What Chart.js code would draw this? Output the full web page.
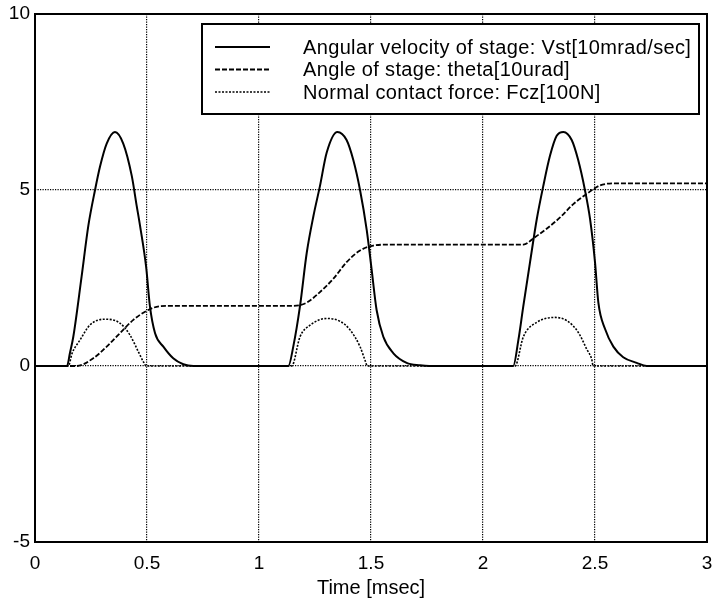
<!DOCTYPE html>
<html>
<head>
<meta charset="utf-8">
<script src="https://cdn.jsdelivr.net/npm/chart.js@4.4.0/dist/chart.umd.min.js"></script>
<style>
    html, body { margin: 0; padding: 0; background: #fff; }
    #wrap { width: 717px; height: 604px; }
</style>
</head>
<body>
<div id="wrap"><canvas id="chart"></canvas></div>
<script>
// values (time in msec)
const velTime = [0, 0.143, 0.156, 0.171, 0.208, 0.238, 0.268, 0.290, 0.320, 0.357, 0.394, 0.432, 0.454, 0.469, 0.496, 0.513, 0.536, 0.573, 0.617, 0.662, 0.707,
    1.131, 1.153, 1.183, 1.213, 1.243, 1.272, 1.302, 1.350, 1.391, 1.421, 1.451, 1.481, 1.503, 1.525, 1.555, 1.600, 1.659, 1.719, 1.760,
    2.135, 2.158, 2.180, 2.210, 2.240, 2.269, 2.299, 2.329, 2.359, 2.396, 2.425, 2.455, 2.478, 2.500, 2.515, 2.545, 2.582, 2.626, 2.686, 2.731, 3.0];
const velValues = [0, 0, 0.37, 0.83, 2.54, 3.98, 5.0, 5.66, 6.32, 6.65, 6.32, 5.4, 4.55, 3.98, 2.82, 1.7, 0.93, 0.55, 0.22, 0.05, 0,
    0, 0.55, 1.70, 3.21, 4.26, 5.11, 6.06, 6.65, 6.42, 5.85, 5.0, 3.86, 2.73, 1.59, 0.83, 0.36, 0.09, 0.02, 0,
    0, 0.74, 1.70, 2.95, 4.17, 5.11, 5.97, 6.54, 6.65, 6.42, 5.85, 5.0, 4.17, 2.95, 1.80, 1.05, 0.55, 0.25, 0.09, 0, 0];

const angleTime = [0, 0.186, 0.26, 0.32, 0.379, 0.439, 0.499, 0.558, 0.617, 1.153, 1.213, 1.272, 1.332, 1.391, 1.451, 1.510, 1.585,
    2.18, 2.232, 2.284, 2.344, 2.403, 2.463, 2.522, 2.597, 3.0];
const angleValues = [0, 0, 0.22, 0.55, 0.93, 1.31, 1.57, 1.70, 1.71, 1.71, 1.80, 2.10, 2.48, 2.95, 3.28, 3.42, 3.45,
    3.45, 3.66, 3.90, 4.22, 4.60, 4.89, 5.13, 5.19, 5.19];

const forceTime = [0, 0.149, 0.165, 0.201, 0.246, 0.3125, 0.379, 0.424, 0.461, 0.484, 0.496,
    1.146, 1.183, 1.228, 1.302, 1.362, 1.406, 1.451, 1.473, 1.484,
    2.143, 2.180, 2.240, 2.321, 2.374, 2.425, 2.463, 2.485, 2.492, 3.0];
const forceValues = [0, 0, 0.35, 0.74, 1.17, 1.33, 1.22, 0.88, 0.41, 0.12, 0,
    0, 0.83, 1.16, 1.35, 1.27, 1.03, 0.55, 0.17, 0,
    0, 0.83, 1.24, 1.38, 1.29, 0.96, 0.48, 0.2, 0, 0];

const seriesLabels = [
    'Angular velocity of stage: Vst[10mrad/sec]',
    'Angle of stage: theta[10urad]',
    'Normal contact force: Fcz[100N]'
];
const xTicks = [0, 0.5, 1, 1.5, 2, 2.5, 3];
const yTicks = [-5, 0, 5, 10];

const FONT = 'Liberation Sans, Arial, Helvetica, sans-serif';

const toPoints = (xs, ys) => xs.map((x, i) => ({ x, y: ys[i] }));

// box around the plot area (MATLAB style)
const frame = {
    id: 'frame',
    afterDatasetsDraw(chart) {
        const { ctx, chartArea: a } = chart;
        ctx.save();
        ctx.strokeStyle = '#000';
        ctx.lineWidth = 2;
        ctx.strokeRect(a.left, a.top, a.right - a.left, a.bottom - a.top);
        ctx.restore();
    }
};

// legend box inside the axes, upper right
const boxLegend = {
    id: 'boxLegend',
    afterDraw(chart) {
        const { ctx, chartArea: a } = chart;
        const w = 497, h = 90;
        const x0 = a.right - 8 - w;
        const y0 = a.top + 10;
        ctx.save();
        ctx.fillStyle = '#fff';
        ctx.fillRect(x0, y0, w, h);
        ctx.strokeStyle = '#000';
        ctx.lineWidth = 2;
        ctx.strokeRect(x0, y0, w, h);

        ctx.font = '20px ' + FONT;
        ctx.letterSpacing = '0.35px';
        ctx.textBaseline = 'middle';
        ctx.fillStyle = '#000';
        chart.data.datasets.forEach((ds, i) => {
            const y = y0 + 23 + i * 22.5;
            ctx.beginPath();
            ctx.setLineDash(ds.borderDash || []);
            ctx.lineWidth = ds.borderWidth;
            ctx.moveTo(x0 + 13, y);
            ctx.lineTo(x0 + 68, y);
            ctx.stroke();
            ctx.setLineDash([]);
            ctx.fillText(ds.label, x0 + 101, y + 1);
        });
        ctx.restore();
    }
};

const gridStyle = {
    color: '#000',
    lineWidth: 1.2,
    drawTicks: false
};

new Chart(document.getElementById('chart'), {
    type: 'scatter',
    data: {
        datasets: [
            {
                label: seriesLabels[0],
                data: toPoints(velTime, velValues),
                borderColor: '#000',
                borderWidth: 2,
                showLine: true,
                pointRadius: 0,
                cubicInterpolationMode: 'monotone'
            },
            {
                label: seriesLabels[1],
                data: toPoints(angleTime, angleValues),
                borderColor: '#000',
                borderWidth: 1.8,
                borderDash: [5, 2],
                showLine: true,
                pointRadius: 0,
                cubicInterpolationMode: 'monotone'
            },
            {
                label: seriesLabels[2],
                data: toPoints(forceTime, forceValues),
                borderColor: '#000',
                borderWidth: 1.6,
                borderDash: [2, 1.5],
                showLine: true,
                pointRadius: 0,
                cubicInterpolationMode: 'monotone'
            }
        ]
    },
    options: {
        responsive: true,
        maintainAspectRatio: false,
        animation: false,
        layout: { padding: { top: 14, right: 10, left: 0, bottom: 0 } },
        plugins: {
            legend: { display: false },
            tooltip: { enabled: false }
        },
        scales: {
            x: {
                type: 'linear',
                min: 0,
                max: 3,
                afterBuildTicks: (scale) => { scale.ticks = xTicks.map(v => ({ value: v })); },
                afterFit: (scale) => {
                    scale.height = 62;
                    scale.paddingLeft = 0;
                    scale.paddingRight = 0;
                },
                grid: gridStyle,
                border: { display: false, dash: [1.2, 1.3] },
                ticks: {
                    color: '#000',
                    padding: 10,
                    maxRotation: 0,
                    callback: (v) => String(v),
                    font: { family: FONT, size: 19 }
                },
                title: {
                    display: true,
                    text: 'Time [msec]',
                    color: '#000',
                    padding: { top: 0, bottom: 4 },
                    font: { family: FONT, size: 20 }
                }
            },
            y: {
                type: 'linear',
                min: -5,
                max: 10,
                afterBuildTicks: (scale) => { scale.ticks = yTicks.map(v => ({ value: v })); },
                afterFit: (scale) => {
                    scale.width = 35;
                    scale.paddingTop = 0;
                    scale.paddingBottom = 0;
                },
                grid: gridStyle,
                border: { display: false, dash: [1.2, 1.3] },
                ticks: {
                    color: '#000',
                    padding: 5,
                    callback: (v) => String(v),
                    font: { family: FONT, size: 19 }
                }
            }
        }
    },
    plugins: [frame, boxLegend]
});
</script>
</body>
</html>
